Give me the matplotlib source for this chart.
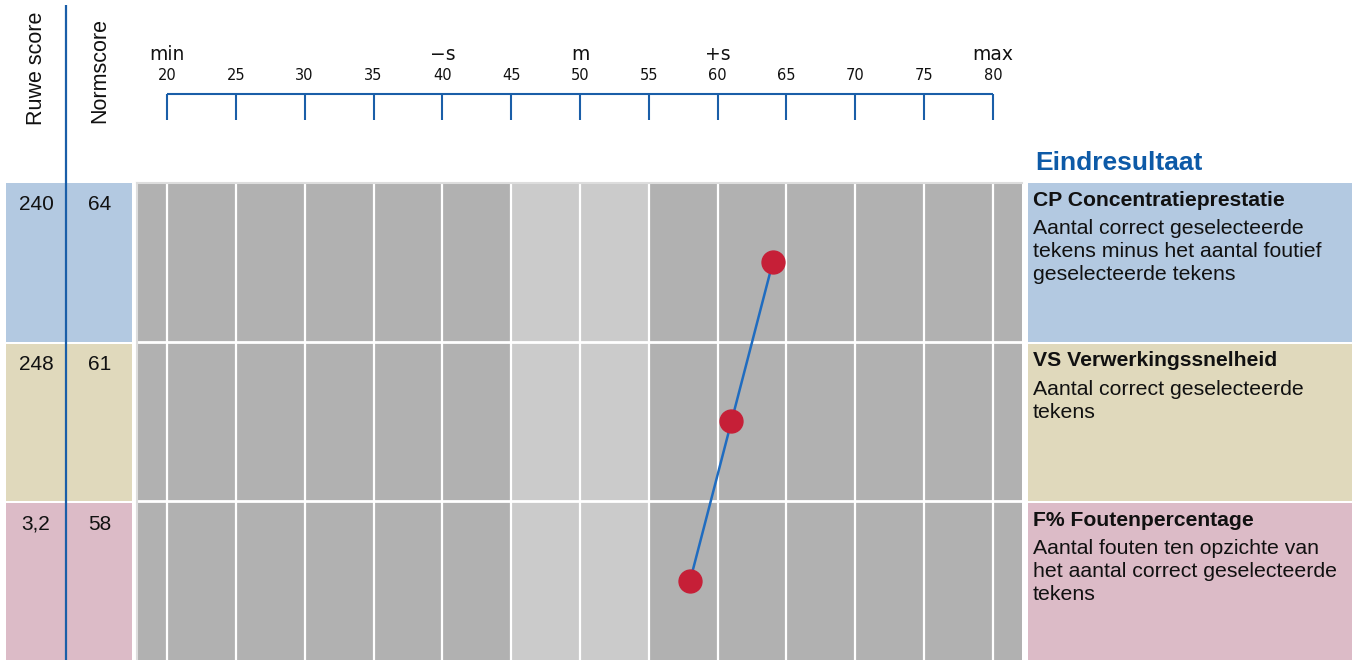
import matplotlib
matplotlib.use("Agg")
import matplotlib.pyplot as plt
from matplotlib.patches import Rectangle

# ---------------- data ----------------
scale_ticks = [20, 25, 30, 35, 40, 45, 50, 55, 60, 65, 70, 75, 80]
scale_mark_pos = [20, 40, 50, 60, 80]
scale_mark_labels = ["min", "\u2212s", "m", "+s", "max"]
mean_band = (45, 55)
raw_scores = ["240", "248", "3,2"]
norm_scores = [64, 61, 58]
scale_names = ["CP Concentratieprestatie", "VS Verwerkingssnelheid", "F% Foutenpercentage"]
scale_desc = [
    "Aantal correct geselecteerde\ntekens minus het aantal foutief\ngeselecteerde tekens",
    "Aantal correct geselecteerde\ntekens",
    "Aantal fouten ten opzichte van\nhet aantal correct geselecteerde\ntekens",
]
row_colors = ["#b3c9e1", "#e0d9bc", "#dcbbc7"]
header_left = ["Ruwe score", "Normscore"]
result_title = "Eindresultaat"

# ---------------- layout ----------------
W, H, DPI = 1356, 660, 100
fig = plt.figure(figsize=(W / DPI, H / DPI), dpi=DPI)
fig.patch.set_facecolor("white")

def px_axes(x0, y0, x1, y1, **kw):
    return fig.add_axes([x0 / W, 1 - y1 / H, (x1 - x0) / W, (y1 - y0) / H], **kw)

BLUE = "#1a5ea8"
SANS = "Liberation Sans"
GRID_X0, GRID_X1 = 137, 1022
ROW_Y0, ROW_Y1 = 183, 660
px_per_unit = (993 - 167) / (scale_ticks[-1] - scale_ticks[0])
xmin = scale_ticks[0] + (GRID_X0 - 167) / px_per_unit
xmax = scale_ticks[0] + (GRID_X1 - 167) / px_per_unit
n_rows = len(norm_scores)
row_h = (ROW_Y1 - ROW_Y0) / n_rows

# background layout axes (pixel coordinates)
bg = px_axes(0, 0, W, H)
bg.set_xlim(0, W)
bg.set_ylim(H, 0)
bg.axis("off")
bg.set_zorder(0)

for i in range(n_rows):
    top = ROW_Y0 + i * row_h + (2 if i > 0 else 0)
    bottom = ROW_Y0 + (i + 1) * row_h
    bg.add_patch(Rectangle((6, top), 126, bottom - top, color=row_colors[i], lw=0))
    bg.add_patch(Rectangle((1028, top), 324, bottom - top, color=row_colors[i], lw=0))
    bg.text(36, top + 21, raw_scores[i], ha="center", va="center",
            fontsize=15, family=SANS, color="#111111")
    bg.text(100, top + 21, str(norm_scores[i]), ha="center", va="center",
            fontsize=15, family=SANS, color="#111111")
    bg.text(1033, top + 17, scale_names[i], ha="left", va="center",
            fontsize=15.2, family=SANS, fontweight="bold", color="#111111")
    bg.text(1033, top + 36, scale_desc[i], ha="left", va="top",
            fontsize=15.3, family=SANS, color="#111111", linespacing=1.28)

bg.plot([66, 66], [5, H], color=BLUE, lw=1.6, solid_capstyle="butt")
bg.text(37, 125, header_left[0], rotation=90, ha="center", va="bottom",
        fontsize=15.5, family=SANS, color="#111111")
bg.text(100, 123, header_left[1], rotation=90, ha="center", va="bottom",
        fontsize=15.5, family=SANS, color="#111111")
bg.text(1035, 163, result_title, ha="left", va="center", fontsize=19,
        family=SANS, fontweight="bold", color="#0d5aa7")

# grid axes (score units)
ax = px_axes(GRID_X0, ROW_Y0, GRID_X1, ROW_Y1)
ax.set_zorder(2)
ax.set_xlim(xmin, xmax)
ax.set_ylim(n_rows, 0)
ax.set_facecolor("#b1b1b1")
ax.axvspan(*mean_band, color="#cbcbcb", lw=0)
for t in scale_ticks:
    ax.axvline(t, color="white", lw=1.6)
for b in range(1, n_rows):
    ax.axhline(b, color="white", lw=2)
rows = [i + 0.5 for i in range(n_rows)]
ax.plot(norm_scores, rows, color="#1f6cc0", lw=1.8, zorder=3)
ax.plot(norm_scores, rows, "o", ms=16.5, color="#c61f37", mec="#c61f37", zorder=4)
ax.set_xticks([])
ax.set_yticks([])
for s in ["bottom", "right"]:
    ax.spines[s].set_visible(False)
for s in ["top", "left"]:
    ax.spines[s].set_color("#dddddd")
    ax.spines[s].set_linewidth(1.5)

# top scale axes (same x units, pixel y)
sc = px_axes(GRID_X0, 30, GRID_X1, 130)
sc.set_xlim(xmin, xmax)
sc.set_ylim(130, 30)
sc.axis("off")
sc.hlines(94, scale_ticks[0], scale_ticks[-1], color=BLUE, lw=1.5)
sc.vlines(scale_ticks, 94, 120, color=BLUE, lw=1.5)
for t in scale_ticks:
    sc.text(t, 75, str(t), ha="center", va="center", fontsize=10.5,
            family="DejaVu Sans", color="#111111")
for p, lbl in zip(scale_mark_pos, scale_mark_labels):
    sc.text(p, 54, lbl, ha="center", va="center", fontsize=13.5,
            family="DejaVu Sans", color="#111111")

fig.savefig("out.png", dpi=DPI)
